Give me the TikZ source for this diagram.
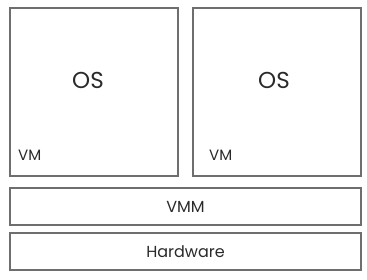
\documentclass[tikz,border=0pt]{standalone}
\usepackage{fontspec}
\setmainfont{Poppins}
\definecolor{boxgray}{HTML}{6E6E6E}
\definecolor{textgray}{HTML}{2A2A2A}
\usetikzlibrary{positioning}

\begin{document}
\begin{tikzpicture}[x=1pt,y=1pt,
  vmbox/.style={draw=boxgray,line width=1.1pt,minimum width=168pt,minimum height=168pt,inner sep=0pt},
  layerbox/.style={draw=boxgray,line width=1.1pt,minimum width=351pt,minimum height=37pt,inner sep=0pt,text=textgray,font=\fontsize{16}{18}\selectfont},
  oslabel/.style={text=textgray,font=\fontsize{23}{27}\selectfont},
  vmlabel/.style={text=textgray,font=\fontsize{15}{17}\selectfont,anchor=base west,inner sep=0pt}]
  \useasboundingbox (0,0) rectangle (367,279);
  % two virtual machines
  \node[vmbox] (vmleft) at (94,187) {};
  \node[vmbox] (vmright) at (277,187) {};
  \node[oslabel] (osleft) at (88,199) {OS};
  \node[oslabel] (osright) at (274,199) {OS};
  \node[vmlabel] (vmtagleft) at (18,119) {VM};
  \node[vmlabel] (vmtagright) at (209,119) {VM};
  % layers below
  \node[layerbox] (vmm) at (185.5,72.5) {VMM};
  \node[layerbox] (hw) at (185.5,27.5) {Hardware};
\end{tikzpicture}
\end{document}
